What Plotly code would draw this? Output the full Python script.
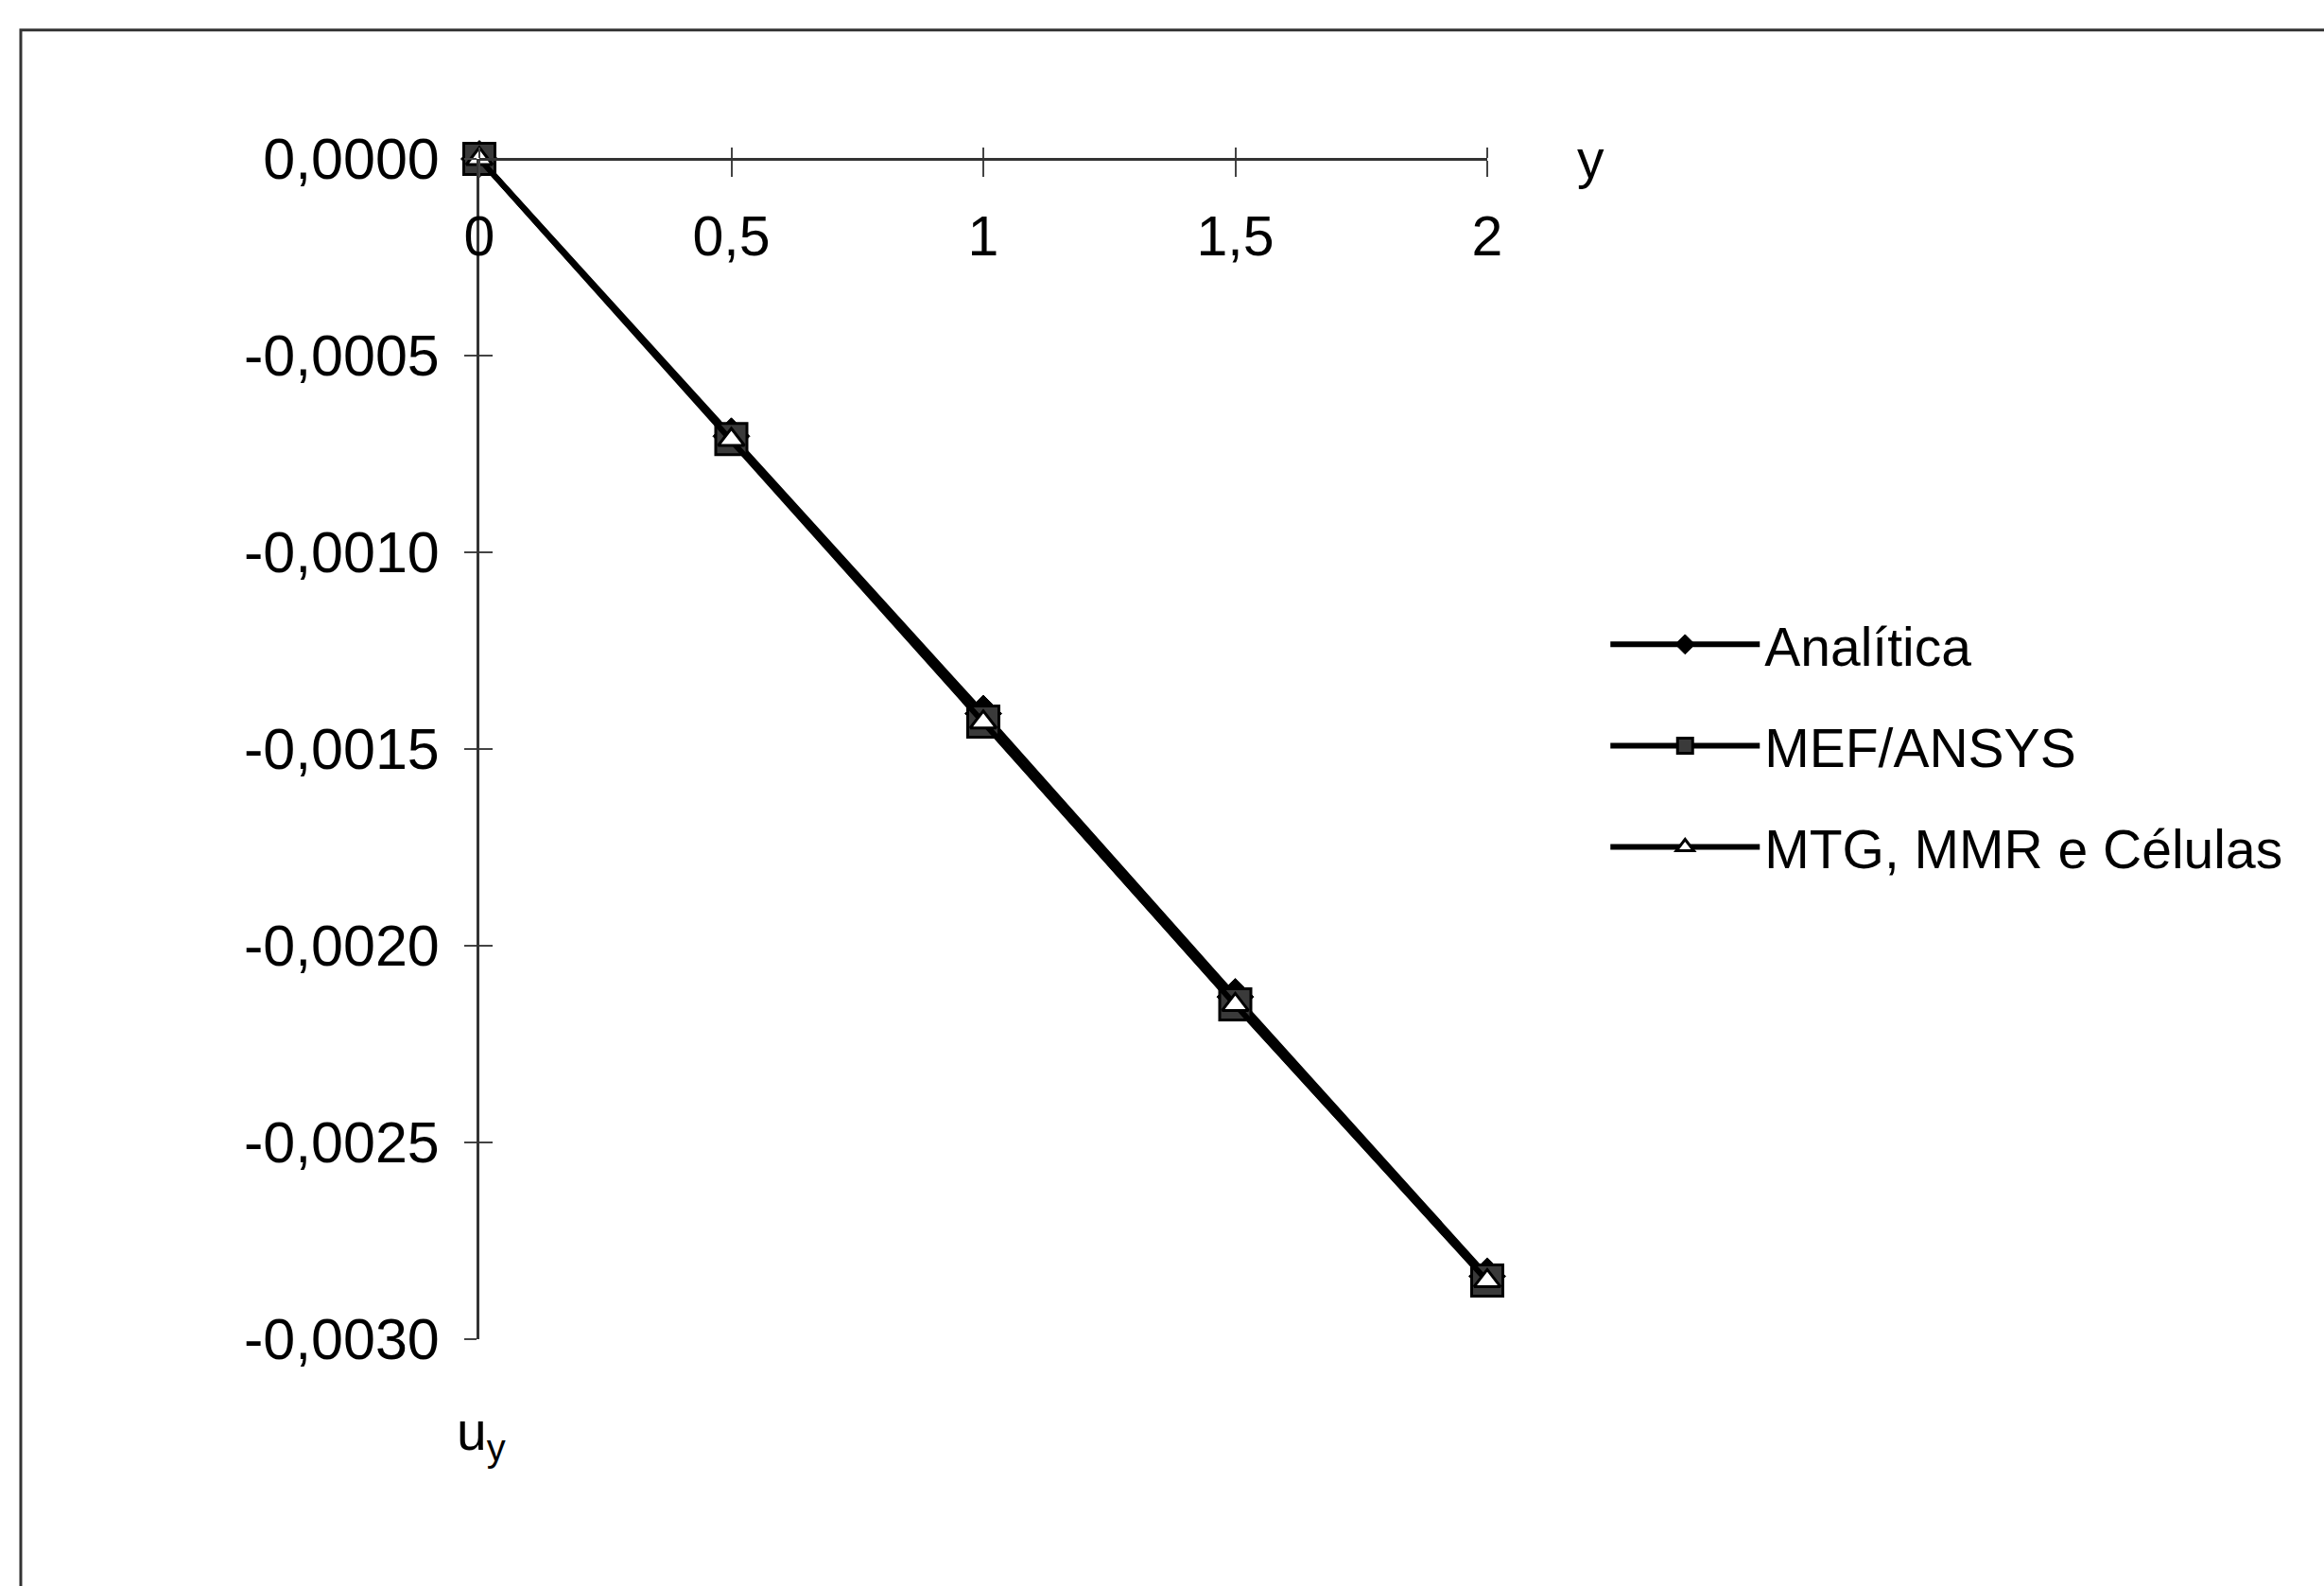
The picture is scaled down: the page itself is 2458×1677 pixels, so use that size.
import plotly.graph_objects as go

# ---- data ----
y_pos = [0, 0.5, 1, 1.5, 2]
analitica = [0.0, -0.000705, -0.00141, -0.00213, -0.00284]
mef_ansys = [0.0, -0.000712, -0.001430, -0.002149, -0.002851]
mtg_mmr = [0.0, -0.000714, -0.001432, -0.002150, -0.002852]

x_tick_vals = [0, 0.5, 1, 1.5, 2]
x_tick_text = ["0", "0,5", "1", "1,5", "2"]
y_tick_vals = [0, -0.0005, -0.001, -0.0015, -0.002, -0.0025, -0.003]
y_tick_text = ["0,0000", "-0,0005", "-0,0010", "-0,0015", "-0,0020", "-0,0025", "-0,0030"]

FONT = "Liberation Sans, Arial, sans-serif"
FS = 57

fig = go.Figure()

fig.add_trace(go.Scatter(
    x=y_pos, y=analitica, name="Analítica", mode="lines+markers",
    line=dict(color="black", width=6),
    marker=dict(symbol="diamond", size=30, color="black", line=dict(color="black", width=1)),
    cliponaxis=False, legendgroup="a"))
fig.add_trace(go.Scatter(
    x=y_pos, y=mef_ansys, name="MEF/ANSYS", mode="lines+markers",
    line=dict(color="black", width=6),
    marker=dict(symbol="square", size=33, color="#3a3a3a", line=dict(color="black", width=3)),
    cliponaxis=False, legendgroup="b"))
fig.add_trace(go.Scatter(
    x=y_pos, y=mtg_mmr, name="MTG, MMR e Células", mode="lines+markers",
    line=dict(color="black", width=6),
    marker=dict(symbol="triangle-up", size=24, color="white", line=dict(color="black", width=3)),
    cliponaxis=False, legendgroup="c"))

# empty trace to activate overlay axes (cross ticks)
fig.add_trace(go.Scatter(x=[], y=[], xaxis="x2", yaxis="y2", showlegend=False, hoverinfo="skip"))

axis_font = dict(family=FONT, size=FS, color="black")

fig.update_layout(
    width=2458, height=1677,
    margin=dict(l=507, r=885, t=168, b=261, pad=0),
    paper_bgcolor="white", plot_bgcolor="white",
    font=axis_font,
    showlegend=True,
    legend=dict(
        x=1.1175, y=0.6236, xanchor="left", yanchor="top",
        font=dict(family=FONT, size=FS, color="black"),
        bgcolor="rgba(0,0,0,0)", borderwidth=0,
        itemwidth=158, tracegroupgap=30,
    ),
    xaxis=dict(
        range=[0, 2], side="bottom", anchor="free", position=1.0,
        showgrid=False, zeroline=False,
        showline=True, linecolor="#333", linewidth=3,
        tickmode="array", tickvals=x_tick_vals, ticktext=x_tick_text,
        ticks="outside", ticklen=17, tickwidth=2, tickcolor="#444",
        ticklabelstandoff=12,
        tickfont=dict(family=FONT, size=59, color="black"),
    ),
    yaxis=dict(
        range=[-0.003, 0], showgrid=False, zeroline=False,
        showline=True, linecolor="#333", linewidth=3,
        tickmode="array", tickvals=y_tick_vals, ticktext=y_tick_text,
        ticks="outside", ticklen=13, tickwidth=2, tickcolor="#444",
        ticklabelstandoff=14,
        tickfont=dict(family=FONT, size=61, color="black"),
    ),
    xaxis2=dict(
        range=[0, 2], overlaying="x", side="top", anchor="y2", showgrid=False, zeroline=False,
        showline=False, tickmode="array", tickvals=x_tick_vals, showticklabels=False,
        ticks="outside", ticklen=11, tickwidth=2, tickcolor="#444",
    ),
    yaxis2=dict(
        range=[-0.003, 0], overlaying="y", side="left", anchor="x2", showgrid=False, zeroline=False,
        showline=False, tickmode="array", tickvals=y_tick_vals, showticklabels=False,
        ticks="inside", ticklen=14, tickwidth=2, tickcolor="#444",
    ),
    annotations=[
        dict(text="y", xref="paper", yref="paper", x=1.103, y=1.0, xanchor="center", yanchor="middle",
             showarrow=False, font=dict(family=FONT, size=FS, color="black")),
        dict(text="u<sub>y</sub>", xref="paper", yref="paper", x=-0.024, y=-0.081, xanchor="left", yanchor="middle",
             showarrow=False, font=dict(family=FONT, size=FS, color="black")),
    ],
    shapes=[
        dict(type="rect", xref="paper", yref="paper", x0=-0.455, x1=3.0, y0=-3.0, y1=1.1092,
             line=dict(color="#333", width=3), fillcolor="rgba(0,0,0,0)", layer="below"),
    ],
)

fig.write_html("out.html", config={"displayModeBar": False},
               post_script="document.body.style.margin='0';")
